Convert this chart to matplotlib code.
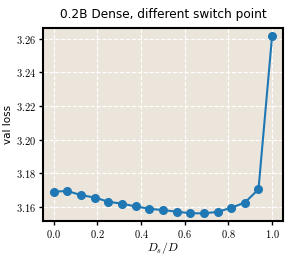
import matplotlib
matplotlib.use('Agg')
import matplotlib.pyplot as plt
from matplotlib.ticker import FuncFormatter

plt.rcParams['mathtext.fontset'] = 'cm'

# switch point fraction and validation loss
switch_frac = [i / 16 for i in range(17)]
val_loss = [3.1690, 3.1694, 3.1669, 3.1655, 3.1630, 3.1618, 3.1602, 3.1588,
            3.1580, 3.1571, 3.1561, 3.1561, 3.1569, 3.1594, 3.1625, 3.1704,
            3.2620]
xticks = [0.0, 0.2, 0.4, 0.6, 0.8, 1.0]
yticks = [3.16, 3.18, 3.20, 3.22, 3.24, 3.26]

fig = plt.figure(figsize=(2.9, 2.57), dpi=100)
ax = fig.add_axes([0.148, 0.14, 0.828, 0.751])
ax.set_facecolor('#ebe5dc')

ax.plot(switch_frac, val_loss, '-o', color='#1f77b4', markersize=5.5, linewidth=1.5)

ax.set_xticks(xticks)
ax.set_yticks(yticks)
ax.xaxis.set_major_formatter(FuncFormatter(lambda v, p: f'${v:.1f}$'))
ax.yaxis.set_major_formatter(FuncFormatter(lambda v, p: f'${v:.2f}$'))
ax.tick_params(labelsize=7.5, width=1, length=3, pad=2)
ax.set_xlim(-0.05, 1.05)
ax.set_ylim(3.1515, 3.2665)

ax.grid(True, color='white', linestyle='--', linewidth=0.8)
ax.set_axisbelow(True)
for s in ax.spines.values():
    s.set_linewidth(1.5)
    s.set_color('black')

ax.set_xlabel('$D_s/D$', fontsize=8.5, labelpad=0)
ax.set_ylabel('val loss', fontsize=7.5, labelpad=2)
ax.set_title('0.2B Dense, different switch point', fontsize=8.7, pad=7)

fig.savefig('out.png', dpi=100)
